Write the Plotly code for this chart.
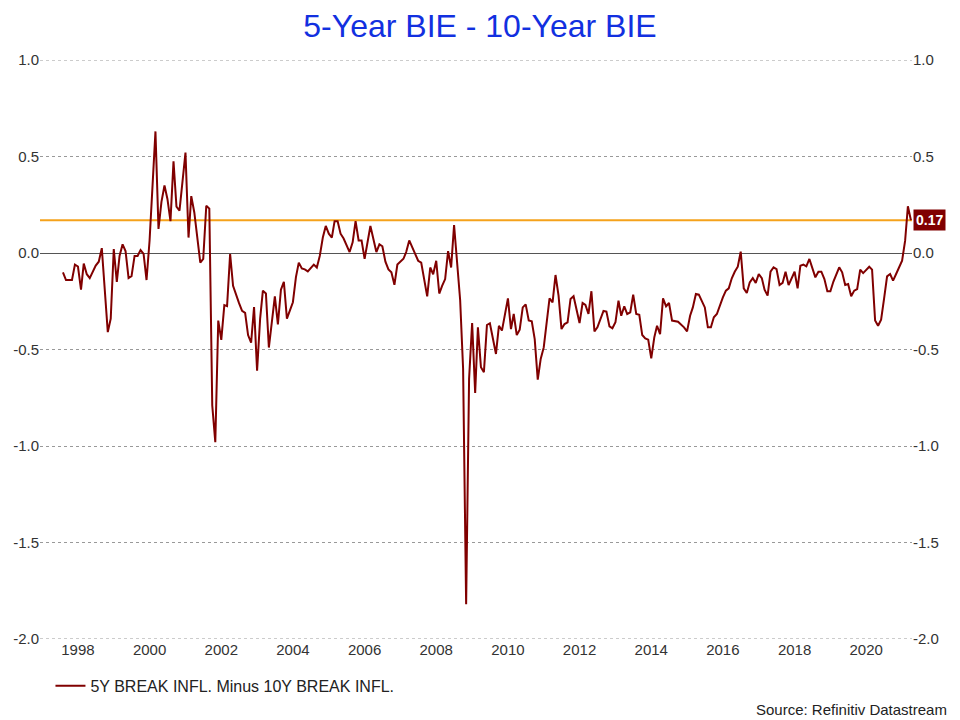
import plotly.graph_objects as go

dates = [
    "1997-08", "1997-09", "1997-11", "1997-12", "1998-01", "1998-02", "1998-03", "1998-04", "1998-05",
    "1998-07", "1998-08", "1998-09", "1998-11", "1998-12", "1999-01", "1999-02", "1999-03", "1999-04",
    "1999-05", "1999-06", "1999-07", "1999-08", "1999-09", "1999-10", "1999-11", "1999-12", "2000-01",
    "2000-03", "2000-04", "2000-05", "2000-06", "2000-07", "2000-08", "2000-09", "2000-10", "2000-11",
    "2001-01", "2001-02", "2001-03", "2001-04", "2001-06", "2001-07", "2001-08", "2001-09", "2001-10",
    "2001-11", "2001-12", "2002-01", "2002-02", "2002-03", "2002-04", "2002-05", "2002-07", "2002-08",
    "2002-09", "2002-10", "2002-11", "2002-12", "2003-01", "2003-02", "2003-03", "2003-04", "2003-05",
    "2003-06", "2003-07", "2003-08", "2003-09", "2003-10", "2003-11", "2004-01", "2004-02", "2004-03",
    "2004-04", "2004-05", "2004-06", "2004-08", "2004-09", "2004-10", "2004-11", "2004-12", "2005-01",
    "2005-02", "2005-03", "2005-04", "2005-05", "2005-06", "2005-08", "2005-09", "2005-10", "2005-11",
    "2005-12", "2006-01", "2006-03", "2006-05", "2006-06", "2006-07", "2006-08", "2006-09", "2006-10",
    "2006-11", "2006-12", "2007-02", "2007-03", "2007-04", "2007-06", "2007-07", "2007-08", "2007-10",
    "2007-11", "2007-12", "2008-01", "2008-02", "2008-03", "2008-04", "2008-05", "2008-06", "2008-07",
    "2008-08", "2008-09", "2008-10", "2008-11", "2008-12", "2009-01", "2009-02", "2009-03", "2009-04",
    "2009-05", "2009-06", "2009-07", "2009-09", "2009-10", "2009-11", "2010-01", "2010-02", "2010-03",
    "2010-04", "2010-05", "2010-06", "2010-07", "2010-08", "2010-09", "2010-10", "2010-11", "2010-12",
    "2011-01", "2011-03", "2011-04", "2011-05", "2011-06", "2011-07", "2011-08", "2011-09", "2011-10",
    "2011-11", "2012-01", "2012-02", "2012-03", "2012-04", "2012-05", "2012-06", "2012-07", "2012-09",
    "2012-10", "2012-11", "2012-12", "2013-01", "2013-02", "2013-03", "2013-04", "2013-05", "2013-06",
    "2013-07", "2013-08", "2013-09", "2013-10", "2013-11", "2013-12", "2014-01", "2014-02", "2014-03",
    "2014-04", "2014-05", "2014-06", "2014-07", "2014-08", "2014-10", "2014-12", "2015-01", "2015-02",
    "2015-03", "2015-04", "2015-05", "2015-07", "2015-08", "2015-09", "2015-10", "2015-11", "2016-01",
    "2016-02", "2016-03", "2016-04", "2016-05", "2016-06", "2016-07", "2016-08", "2016-09", "2016-10",
    "2016-11", "2016-12", "2017-01", "2017-02", "2017-03", "2017-04", "2017-05", "2017-06", "2017-07",
    "2017-08", "2017-09", "2017-10", "2017-11", "2017-12", "2018-01", "2018-02", "2018-03", "2018-04",
    "2018-05", "2018-06", "2018-07", "2018-08", "2018-09", "2018-10", "2018-11", "2018-12", "2019-01",
    "2019-02", "2019-04", "2019-05", "2019-06", "2019-07", "2019-08", "2019-09", "2019-10", "2019-11",
    "2019-12", "2020-02", "2020-03", "2020-04", "2020-05", "2020-06", "2020-07", "2020-08", "2020-09",
    "2020-10", "2020-11", "2020-12", "2021-01", "2021-02", "2021-03", "2021-04",
]

spread = [
    -0.10, -0.14, -0.14, -0.06, -0.07, -0.19, -0.055, -0.11, -0.13,
    -0.065, -0.045, 0.025, -0.41, -0.34, 0.02, -0.15, -0.015, 0.045,
    0.01, -0.13, -0.12, -0.015, -0.015, 0.015, -0.005, -0.14, 0.065,
    0.63, 0.125, 0.265, 0.35, 0.28, 0.165, 0.475, 0.24, 0.22,
    0.52, 0.08, 0.295, 0.21, -0.05, -0.03, 0.245, 0.23, -0.79,
    -0.98, -0.35, -0.45, -0.27, -0.275, -0.005, -0.17, -0.26, -0.30,
    -0.31, -0.425, -0.465, -0.28, -0.61, -0.34, -0.195, -0.21, -0.49,
    -0.34, -0.225, -0.37, -0.19, -0.15, -0.34, -0.255, -0.125, -0.05,
    -0.08, -0.085, -0.095, -0.06, -0.075, -0.015, 0.08, 0.14, 0.10,
    0.08, 0.165, 0.165, 0.10, 0.075, 0.005, 0.055, 0.165, 0.065,
    0.065, -0.03, 0.14, 0.005, 0.045, 0.035, -0.045, -0.085, -0.10,
    -0.165, -0.06, -0.03, 0.005, 0.065, -0.005, -0.04, -0.05, -0.225,
    -0.075, -0.11, -0.04, -0.21, -0.17, -0.135, 0.01, -0.075, 0.145,
    -0.065, -0.245, -0.60, -1.82, -0.653, -0.363, -0.725, -0.385, -0.592,
    -0.618, -0.373, -0.364, -0.523, -0.377, -0.402, -0.235, -0.394, -0.316,
    -0.425, -0.397, -0.282, -0.266, -0.35, -0.354, -0.446, -0.656, -0.549,
    -0.489, -0.235, -0.256, -0.114, -0.221, -0.394, -0.368, -0.359, -0.238,
    -0.224, -0.363, -0.259, -0.269, -0.316, -0.198, -0.406, -0.385, -0.30,
    -0.304, -0.38, -0.39, -0.359, -0.247, -0.325, -0.276, -0.316, -0.307,
    -0.216, -0.316, -0.32, -0.425, -0.442, -0.449, -0.546, -0.437, -0.377,
    -0.42, -0.235, -0.276, -0.259, -0.35, -0.356, -0.385, -0.406, -0.325,
    -0.282, -0.212, -0.216, -0.282, -0.385, -0.385, -0.333, -0.316, -0.23,
    -0.195, -0.183, -0.131, -0.097, -0.071, 0.007, -0.183, -0.207, -0.152,
    -0.13, -0.155, -0.109, -0.13, -0.19, -0.221, -0.097, -0.074, -0.083,
    -0.166, -0.155, -0.097, -0.166, -0.135, -0.097, -0.183, -0.066, -0.06,
    -0.069, -0.031, -0.074, -0.126, -0.097, -0.097, -0.135, -0.198, -0.198,
    -0.148, -0.074, -0.10, -0.166, -0.161, -0.224, -0.195, -0.187, -0.086,
    -0.104, -0.071, -0.086, -0.35, -0.377, -0.345, -0.238, -0.121, -0.109,
    -0.143, -0.109, -0.079, -0.04, 0.064, 0.242, 0.17,
]

latest_value = 0.17
series_name = "5Y BREAK INFL. Minus 10Y BREAK INFL."
title_text = "5-Year BIE - 10-Year BIE"
source_text = "Source: Refinitiv Datastream"
y_ticks = [-2.0, -1.5, -1.0, -0.5, 0.0, 0.5, 1.0]
y_tick_labels = ["-2.0", "-1.5", "-1.0", "-0.5", "0.0", "0.5", "1.0"]
y_range = [y_ticks[0], y_ticks[-1]]

LINE = "#800000"
ORANGE = "#F5A21B"
GRID = "#999999"
FONT = "Liberation Sans, Arial, sans-serif"

fig = go.Figure()
fig.add_trace(go.Scatter(
    x=dates, y=spread, mode="lines", showlegend=False, hoverinfo="skip",
    line=dict(color="rgba(0,0,0,0)", width=0), yaxis="y2",
))
fig.add_trace(go.Scatter(
    x=dates, y=spread, mode="lines", name=series_name,
    line=dict(color=LINE, width=2), yaxis="y",
))

# gridlines at the range edges (plotly omits them at the plot border)
for edge in (y_ticks[0], y_ticks[-1]):
    fig.add_shape(type="line", xref="paper", x0=0, x1=1, yref="y", y0=edge, y1=edge,
                  line=dict(color=GRID, width=1, dash="dot"), layer="below")

fig.add_shape(type="line", xref="paper", x0=0, x1=1, yref="y", y0=latest_value, y1=latest_value,
              line=dict(color=ORANGE, width=2), layer="below")

fig.add_annotation(xref="paper", x=1.0, yref="y", y=latest_value, xanchor="left", yanchor="middle",
                   text="<b>%.2f</b>" % latest_value, showarrow=False,
                   font=dict(family=FONT, size=14, color="white"),
                   bgcolor=LINE, borderpad=2, xshift=1)

fig.add_annotation(xref="paper", x=1.043, yref="paper", y=-0.121, xanchor="right", yanchor="middle",
                   text=source_text, showarrow=False,
                   font=dict(family=FONT, size=15, color="#222"))

axis_font = dict(family=FONT, size=15, color="#333")

fig.update_layout(
    width=960, height=720,
    paper_bgcolor="white", plot_bgcolor="white",
    margin=dict(l=40, r=48, t=60, b=81),
    title=dict(text=title_text, x=0.5, xanchor="center", y=0.964, yanchor="middle",
               font=dict(family=FONT, size=32, color="#1230E0")),
    font=dict(family=FONT),
    showlegend=True,
    legend=dict(orientation="h", x=0.012, xanchor="left", y=-0.081, yanchor="middle",
                font=dict(family=FONT, size=16, color="#222"), bgcolor="rgba(0,0,0,0)"),
    xaxis=dict(
        type="date", range=["1996-12-10", "2021-04-12"],
        tick0="1998-01-01", dtick="M24", tickformat="%Y",
        showgrid=False, showline=False, zeroline=False, ticks="",
        tickfont=axis_font,
    ),
    yaxis=dict(
        range=y_range, tickvals=y_ticks, ticktext=y_tick_labels,
        showgrid=True, gridcolor=GRID, griddash="dot", gridwidth=1,
        zeroline=True, zerolinecolor="#555555", zerolinewidth=1,
        showline=False, ticks="", tickfont=axis_font,
    ),
    yaxis2=dict(
        range=y_range, tickvals=y_ticks, ticktext=y_tick_labels,
        overlaying="y", side="right", showgrid=False, zeroline=False,
        showline=False, ticks="", tickfont=axis_font,
    ),
)

fig.write_html("out.html", config={"displayModeBar": False},
               post_script="document.body.style.margin='0px';")
